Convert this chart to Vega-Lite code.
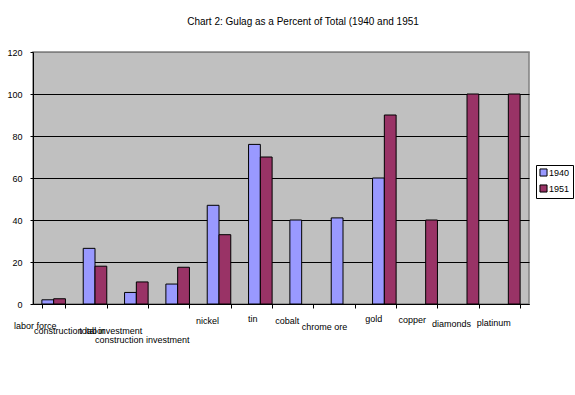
{
  "$schema": "https://vega.github.io/schema/vega-lite/v6.json",
  "width": 496,
  "height": 252,
  "autosize": "none",
  "padding": {"left": 33, "top": 52, "right": 46, "bottom": 91},
  "background": "white",
  "config": {
    "view": {"fill": "#C0C0C0", "stroke": "#808080", "strokeWidth": 1.5},
    "font": "Liberation Sans"
  },
  "title": {
    "text": "Chart 2: Gulag as a Percent of Total (1940 and 1951",
    "fontSize": 10,
    "fontWeight": "normal",
    "font": "Liberation Sans",
    "color": "black",
    "anchor": "middle",
    "frame": "group",
    "baseline": "alphabetic",
    "offset": 13,
    "dx": 22
  },
  "data": {
    "values": [
      {"category": "labor force", "year": "1940", "value": 2},
      {"category": "labor force", "year": "1951", "value": 2.5},
      {"category": "construction labor", "year": "1940", "value": 26.5},
      {"category": "construction labor", "year": "1951", "value": 18},
      {"category": "total investment", "year": "1940", "value": 5.5},
      {"category": "total investment", "year": "1951", "value": 10.5},
      {"category": "construction investment", "year": "1940", "value": 9.5},
      {"category": "construction investment", "year": "1951", "value": 17.5},
      {"category": "nickel", "year": "1940", "value": 47},
      {"category": "nickel", "year": "1951", "value": 33},
      {"category": "tin", "year": "1940", "value": 76},
      {"category": "tin", "year": "1951", "value": 70},
      {"category": "cobalt", "year": "1940", "value": 40},
      {"category": "chrome ore", "year": "1940", "value": 41},
      {"category": "gold", "year": "1940", "value": 60},
      {"category": "gold", "year": "1951", "value": 90},
      {"category": "copper", "year": "1951", "value": 40},
      {"category": "diamonds", "year": "1951", "value": 100},
      {"category": "platinum", "year": "1951", "value": 100}
    ]
  },
  "mark": {"type": "bar", "stroke": "black", "strokeWidth": 1},
  "encoding": {
    "x": {
      "field": "category",
      "type": "nominal",
      "sort": null,
      "scale": {"paddingInner": 0.43, "paddingOuter": 0.215},
      "axis": {
        "title": null,
        "labelAngle": 0,
        "tickBand": "extent",
        "domainColor": "black",
        "tickColor": "black",
        "tickSize": 4,
        "labelFontSize": 9,
        "labelColor": "black",
        "labelFont": "Liberation Sans",
        "labelBaseline": "top",
        "labelAlign": "center",
        "labelOverlap": false,
        "labelLimit": 300,
        "labelOffset": {
          "condition": [
            {"test": "datum.value == 'labor force'", "value": -19},
            {"test": "datum.value == 'construction labor'", "value": -26},
            {"test": "datum.value == 'total investment'", "value": -26},
            {"test": "datum.value == 'construction investment'", "value": -36},
            {"test": "datum.value == 'nickel'", "value": -12},
            {"test": "datum.value == 'tin'", "value": -8},
            {"test": "datum.value == 'cobalt'", "value": -15},
            {"test": "datum.value == 'chrome ore'", "value": -19},
            {"test": "datum.value == 'gold'", "value": -11},
            {"test": "datum.value == 'copper'", "value": -14},
            {"test": "datum.value == 'diamonds'", "value": -16}
          ],
          "value": -15
        },
        "labelPadding": {
          "condition": [
            {"test": "datum.value == 'labor force'", "value": 13},
            {"test": "datum.value == 'construction labor'", "value": 18},
            {"test": "datum.value == 'total investment'", "value": 18},
            {"test": "datum.value == 'construction investment'", "value": 27},
            {"test": "datum.value == 'nickel'", "value": 8},
            {"test": "datum.value == 'tin'", "value": 6},
            {"test": "datum.value == 'cobalt'", "value": 8},
            {"test": "datum.value == 'chrome ore'", "value": 14},
            {"test": "datum.value == 'gold'", "value": 6},
            {"test": "datum.value == 'copper'", "value": 7},
            {"test": "datum.value == 'diamonds'", "value": 11}
          ],
          "value": 10
        }
      }
    },
    "xOffset": {
      "field": "year",
      "type": "nominal",
      "scale": {"paddingInner": 0, "paddingOuter": 0}
    },
    "y": {
      "field": "value",
      "type": "quantitative",
      "scale": {"domain": [0, 120], "nice": false},
      "axis": {
        "title": null,
        "values": [0, 20, 40, 60, 80, 100, 120],
        "tickSize": 3,
        "labelPadding": 8,
        "labelFontSize": 9,
        "labelColor": "black",
        "labelFont": "Liberation Sans",
        "domainColor": "black",
        "tickColor": "black",
        "gridColor": {"condition": {"test": "datum.value == 120", "value": "#808080"}, "value": "black"},
        "gridWidth": 1,
        "gridOpacity": 1
      }
    },
    "color": {
      "field": "year",
      "type": "nominal",
      "scale": {"domain": ["1940", "1951"], "range": ["#9999FF", "#993366"]},
      "legend": {
        "title": null,
        "orient": "none",
        "legendX": 503,
        "legendY": 113,
        "symbolType": "square",
        "symbolSize": 50,
        "symbolStrokeColor": "black",
        "symbolStrokeWidth": 1,
        "symbolOpacity": 1,
        "labelFontSize": 9,
        "labelFont": "Liberation Sans",
        "labelColor": "black",
        "labelOffset": 1,
        "strokeColor": "black",
        "fillColor": "white",
        "padding": 3,
        "rowPadding": 3
      }
    }
  }
}
